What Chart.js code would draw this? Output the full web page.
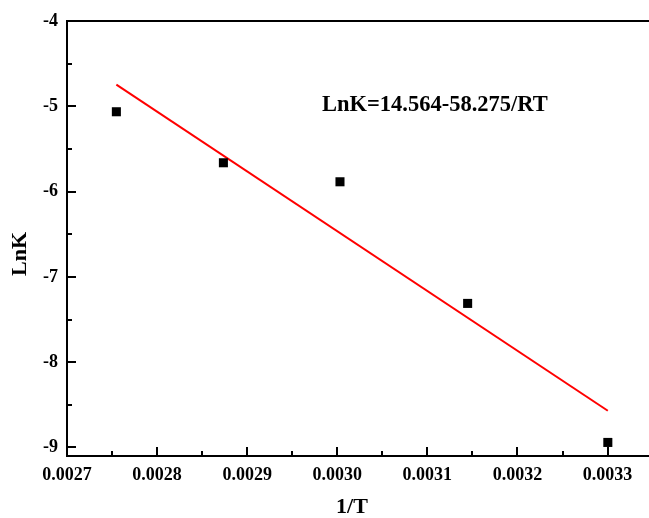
<!DOCTYPE html>
<html>
<head>
<meta charset="utf-8">
<title>LnK vs 1/T</title>
<script src="https://cdn.jsdelivr.net/npm/chart.js@4/dist/chart.umd.min.js"></script>
<style>
  html, body { margin: 0; padding: 0; background: #fff; }
  #wrap { width: 649px; height: 518px; }
</style>
</head>
<body>
<div id="wrap"><canvas id="lnk-chart" width="649" height="518"></canvas></div>
<script>
'use strict';

// measured points (1/T, LnK)
const invT = [0.0027548, 0.0028736, 0.0030030, 0.0031447, 0.0033003];
const lnK = [-5.064, -5.662, -5.885, -7.311, -8.941];

// ends of the fitted line LnK = 14.564 - 58.275/RT
const fitX = [0.0027548, 0.0033003];
const fitY = [-4.745, -8.569];

const xTicks = [0.0027, 0.0028, 0.0029, 0.0030, 0.0031, 0.0032, 0.0033];
const yTicks = [-9, -8, -7, -6, -5, -4];

const fitText = 'LnK=14.564-58.275/RT';
const xTitle = '1/T';
const yTitle = 'LnK';

const serif = "'Liberation Serif', 'Times New Roman', serif";

function toPoints(xs, ys) {
  return xs.map(function (x, i) { return { x: x, y: ys[i] }; });
}

// inward major/minor ticks, top frame line and the text pieces
const frame = {
  id: 'frame',
  afterDraw(chart) {
    const ctx = chart.ctx;
    const area = chart.chartArea;
    const xs = chart.scales.x;
    const ys = chart.scales.y;
    ctx.save();
    ctx.strokeStyle = '#000';
    ctx.lineWidth = 2;

    ctx.beginPath();
    ctx.moveTo(area.left - 1, area.top);
    ctx.lineTo(chart.width, area.top);
    ctx.stroke();

    function tickX(v, len) {
      const px = Math.round(xs.getPixelForValue(v));
      ctx.beginPath();
      ctx.moveTo(px, area.bottom);
      ctx.lineTo(px, area.bottom - len);
      ctx.stroke();
    }
    function tickY(v, len) {
      const py = Math.round(ys.getPixelForValue(v));
      ctx.beginPath();
      ctx.moveTo(area.left, py);
      ctx.lineTo(area.left + len, py);
      ctx.stroke();
    }
    for (let i = 0; i < xTicks.length; i++) {
      if (i > 0) tickX(xTicks[i], 9);
      if (i < xTicks.length - 1) tickX((xTicks[i] + xTicks[i + 1]) / 2, 5);
    }
    for (let i = 0; i < yTicks.length; i++) {
      if (yTicks[i] !== -4) tickY(yTicks[i], 9);
      if (i < yTicks.length - 1) tickY((yTicks[i] + yTicks[i + 1]) / 2, 5);
    }

    ctx.fillStyle = '#000';
    ctx.font = 'bold 22.5px ' + serif;
    ctx.textAlign = 'left';
    ctx.textBaseline = 'middle';
    ctx.fillText(fitText, 322, 105);

    ctx.font = 'bold 22px ' + serif;
    ctx.textAlign = 'center';
    ctx.fillText(xTitle, 352, 507);

    ctx.translate(20, 254);
    ctx.rotate(-Math.PI / 2);
    ctx.fillText(yTitle, 0, 0);
    ctx.restore();
  }
};

const ctx = document.getElementById('lnk-chart').getContext('2d');
const chart = new Chart(ctx, {
  type: 'scatter',
  data: {
    datasets: [
      {
        label: 'LnK',
        data: toPoints(invT, lnK),
        pointStyle: 'rect',
        pointRadius: 6.4,
        pointBorderWidth: 0,
        backgroundColor: '#000',
        borderColor: '#000'
      },
      {
        label: 'fit',
        type: 'line',
        data: toPoints(fitX, fitY),
        borderColor: '#ff0000',
        borderWidth: 2,
        pointRadius: 0,
        fill: false
      }
    ]
  },
  options: {
    responsive: false,
    animation: false,
    layout: { autoPadding: false, padding: { top: 21, right: 0, left: 0, bottom: 0 } },
    plugins: { legend: { display: false }, tooltip: { enabled: false } },
    scales: {
      x: {
        type: 'linear',
        min: 0.0027,
        max: 0.003346,
        grid: { display: false, drawTicks: false },
        border: { display: true, color: '#000', width: 2 },
        afterBuildTicks: function (scale) {
          scale.ticks = xTicks.map(function (v) { return { value: v }; });
        },
        afterFit: function (scale) {
          scale.height = 62;
          scale.paddingLeft = 0;
          scale.paddingRight = 0;
        },
        ticks: {
          padding: 9,
          maxRotation: 0,
          autoSkip: false,
          color: '#000',
          font: { family: serif, size: 18, weight: 'bold' },
          callback: function (v) { return v.toFixed(4); }
        }
      },
      y: {
        type: 'linear',
        min: -9.1,
        max: -4,
        grid: { display: false, drawTicks: false },
        border: { display: true, color: '#000', width: 2 },
        afterBuildTicks: function (scale) {
          scale.ticks = yTicks.map(function (v) { return { value: v }; });
        },
        afterFit: function (scale) {
          scale.width = 67;
          scale.paddingTop = 0;
          scale.paddingBottom = 0;
        },
        ticks: {
          padding: 9,
          autoSkip: false,
          color: '#000',
          font: { family: serif, size: 18, weight: 'bold' },
          callback: function (v) { return String(v); }
        }
      }
    }
  },
  plugins: [frame]
});
</script>
</body>
</html>
